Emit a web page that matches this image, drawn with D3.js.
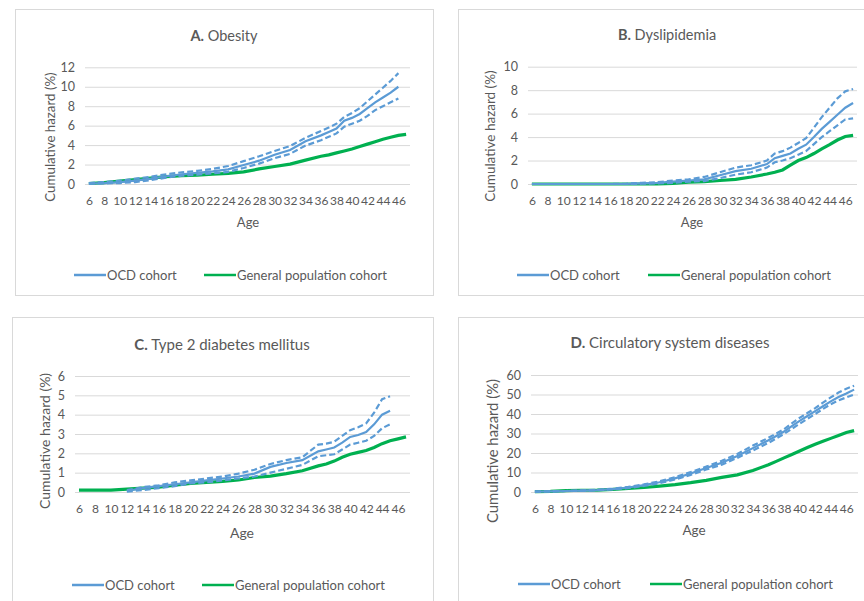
<!DOCTYPE html>
<html>
<head>
<meta charset="utf-8">
<script src="https://cdn.jsdelivr.net/npm/d3@7"></script>
<style>
body { margin: 0; background: #fff; }
text { font-family: Lato, "Open Sans", sans-serif; fill: #595959; }
</style>
</head>
<body>
<div id="chart"></div>
<script>
// category axis (every year) and the ages where values were read
const CATEGORIES = [6,7,8,9,10,11,12,13,14,15,16,17,18,19,20,21,22,23,24,25,26,27,28,29,30,31,32,33,34,35,36,37,38,39,40,41,42,43,44,45,46,47];
const AGE_TICKS = [6,8,10,12,14,16,18,20,22,24,26,28,30,32,34,36,38,40,42,44,46];
const AGES = [6,8,10,12,14,16,18,20,22,24,26,28,30,32,34,36,37,38,39,40,41,42,43,44,45,46,47];

// A. Obesity
const obesityOcd   = [0.05,0.1,0.2,0.35,0.55,0.8,1.0,1.15,1.3,1.5,1.95,2.4,3.0,3.5,4.4,5.0,5.35,5.7,6.5,6.8,7.2,7.8,8.4,8.9,9.4,10.0,null];
const obesityOcdHi = [0.1,0.2,0.35,0.55,0.75,1.0,1.2,1.35,1.55,1.85,2.35,2.85,3.4,3.9,4.75,5.45,5.8,6.2,6.9,7.3,7.8,8.5,9.2,9.9,10.6,11.4,null];
const obesityOcdLo = [0.02,0.05,0.1,0.2,0.4,0.65,0.85,0.95,1.1,1.25,1.65,2.1,2.65,3.1,3.95,4.5,4.85,5.2,5.9,6.2,6.5,7.0,7.6,8.0,8.4,8.8,null];
const obesityGen   = [0.05,0.15,0.3,0.45,0.6,0.75,0.85,0.9,1.0,1.1,1.25,1.55,1.8,2.05,2.45,2.85,3.0,3.2,3.4,3.6,3.85,4.1,4.35,4.6,4.8,5.0,5.1];

// B. Dyslipidemia
const dyslipOcd   = [0,0,0,0,0,0,0,0.05,0.1,0.2,0.3,0.4,0.75,1.1,1.3,1.7,2.2,2.4,2.6,3.0,3.35,4.0,4.7,5.3,5.9,6.5,6.9];
const dyslipOcdHi = [0,0,0,0,0,0,0.02,0.1,0.15,0.3,0.4,0.6,1.0,1.4,1.6,2.0,2.6,2.8,3.1,3.5,3.9,4.8,5.7,6.5,7.3,7.9,8.1];
const dyslipOcdLo = [0,0,0,0,0,0,0,0.02,0.05,0.1,0.2,0.25,0.5,0.8,1.0,1.4,1.85,2.0,2.2,2.5,2.8,3.4,4.0,4.5,5.0,5.5,5.6];
const dyslipGen   = [0,0,0,0,0,0,0,0,0,0.05,0.15,0.2,0.3,0.4,0.6,0.85,1.0,1.2,1.6,2.0,2.25,2.6,3.0,3.35,3.75,4.05,4.15];

// C. Type 2 diabetes mellitus
const diabetesOcd   = [null,null,null,0.05,0.2,0.3,0.4,0.5,0.6,0.7,0.8,0.95,1.3,1.5,1.65,2.1,2.2,2.3,2.55,2.85,2.95,3.1,3.5,4.0,4.2,null,null];
const diabetesOcdHi = [null,null,null,0.1,0.25,0.35,0.5,0.6,0.7,0.8,0.95,1.15,1.45,1.65,1.8,2.45,2.5,2.6,2.9,3.2,3.35,3.55,4.1,4.8,4.95,null,null];
const diabetesOcdLo = [null,null,null,0.02,0.1,0.2,0.3,0.45,0.5,0.6,0.7,0.8,1.0,1.2,1.4,1.85,1.9,1.95,2.2,2.45,2.55,2.65,2.9,3.3,3.5,null,null];
const diabetesGen   = [0.1,0.1,0.1,0.15,0.2,0.25,0.35,0.45,0.5,0.55,0.62,0.75,0.82,0.95,1.1,1.35,1.45,1.6,1.8,1.95,2.05,2.15,2.3,2.5,2.65,2.75,2.85];

// D. Circulatory system diseases
const circOcd   = [0.2,0.3,0.5,0.7,1.0,1.5,2.3,3.5,5.0,7.0,9.5,12.3,15.0,18.5,22.5,26.5,28.7,31.0,33.8,36.5,39.0,41.5,44.0,46.5,48.7,50.5,52.5];
const circOcdHi = [0.2,0.3,0.5,0.8,1.1,1.7,2.6,3.9,5.5,7.6,10.2,13.0,16.0,19.5,23.8,27.8,30.0,32.2,35.2,38.0,40.5,43.0,45.8,48.5,51.0,53.0,54.5];
const circOcdLo = [0.2,0.3,0.5,0.6,0.9,1.3,2.0,3.1,4.5,6.4,8.8,11.5,14.0,17.5,21.3,25.2,27.5,29.8,32.4,35.0,37.5,40.0,42.6,45.0,47.0,48.5,50.0];
const circGen   = [0.2,0.3,0.7,0.9,1.0,1.3,1.8,2.3,3.0,3.8,4.8,6.0,7.5,8.8,11.0,14.0,15.7,17.5,19.2,21.0,22.8,24.5,26.0,27.5,29.0,30.5,31.5];

const BLUE = "#5B9BD5", GREEN = "#00B050", GRID = "#D9D9D9";

const panels = [
    {tag: "A.", name: " Obesity", yTicks: [0,2,4,6,8,10,12],
     ocd: obesityOcd, hi: obesityOcdHi, lo: obesityOcdLo, gen: obesityGen,
     box: [15, 9, 418, 286], plot: {l: 85, r: 410, t: 67.3, b: 184},
     title: [224, 41, 14.5], ylab: [50, 137, 13.3], xlab: [248, 227, 13], leg: [74, 204, 275]},
    {tag: "B.", name: " Dyslipidemia", yTicks: [0,2,4,6,8,10],
     ocd: dyslipOcd, hi: dyslipOcdHi, lo: dyslipOcdLo, gen: dyslipGen,
     box: [458, 9, 420, 286], plot: {l: 528, r: 857, t: 66.7, b: 184},
     title: [667, 40, 14.5], ylab: [490, 136, 13.5], xlab: [692, 227, 13], leg: [517, 648, 275]},
    {tag: "C.", name: " Type 2 diabetes mellitus", yTicks: [0,1,2,3,4,5,6],
     ocd: diabetesOcd, hi: diabetesOcdHi, lo: diabetesOcdLo, gen: diabetesGen,
     box: [12, 317, 421, 300], plot: {l: 75, r: 410, t: 376, b: 492},
     title: [222, 350, 15], ylab: [45, 441, 14], xlab: [242, 538, 14], leg: [72, 202, 585]},
    {tag: "D.", name: " Circulatory system diseases", yTicks: [0,10,20,30,40,50,60],
     ocd: circOcd, hi: circOcdHi, lo: circOcdLo, gen: circGen,
     box: [458, 317, 420, 300], plot: {l: 531, r: 858, t: 375, b: 492},
     title: [670, 348, 15], ylab: [493, 451, 14.8], xlab: [694, 535, 13.5], leg: [518, 650, 584]}
];

let svg = d3.select("#chart")
    .append("svg")
    .attr("width", 864)
    .attr("height", 601)
    .style("background", "#fff");

panels.forEach(function(p) {
    let g = svg.append("g");

    // panel frame
    g.append("rect")
        .attr("x", p.box[0] + 0.5).attr("y", p.box[1] + 0.5)
        .attr("width", p.box[2]).attr("height", p.box[3])
        .attr("fill", "#fff")
        .attr("stroke", GRID);

    let x = d3.scalePoint()
        .domain(CATEGORIES)
        .range([p.plot.l, p.plot.r])
        .padding(0.5);
    let y = d3.scaleLinear()
        .domain([0, p.yTicks[p.yTicks.length - 1]])
        .range([p.plot.b, p.plot.t]);

    // gridlines + y labels
    let yAxis = g.append("g")
        .attr("transform", "translate(" + p.plot.l + ",0)")
        .call(d3.axisLeft(y).tickValues(p.yTicks).tickFormat(d3.format("d"))
            .tickSize(-(p.plot.r - p.plot.l)).tickPadding(10));
    yAxis.select(".domain").remove();
    yAxis.selectAll("line").attr("stroke", GRID).attr("stroke-width", 1);
    yAxis.selectAll("text").style("font-size", "12.5px").style("fill", "#595959")
        .style("font-family", "Lato, sans-serif");

    // x labels
    let xAxis = g.append("g")
        .attr("transform", "translate(0," + p.plot.b + ")")
        .call(d3.axisBottom(x).tickValues(AGE_TICKS).tickSize(0).tickPadding(12));
    xAxis.select(".domain").remove();
    xAxis.selectAll("text").style("font-size", "12px").style("fill", "#595959")
        .style("font-family", "Lato, sans-serif");

    let line = d3.line()
        .defined(function(d) { return d[1] != null; })
        .x(function(d) { return x(d[0]); })
        .y(function(d) { return y(d[1]); });
    let pts = function(vals) { return AGES.map(function(a, i) { return [a, vals[i]]; }); };

    g.append("path").attr("d", line(pts(p.gen)))
        .attr("fill", "none").attr("stroke", GREEN).attr("stroke-width", 3.2);
    g.append("path").attr("d", line(pts(p.hi)))
        .attr("fill", "none").attr("stroke", BLUE).attr("stroke-width", 2.2)
        .attr("stroke-dasharray", "6,3");
    g.append("path").attr("d", line(pts(p.lo)))
        .attr("fill", "none").attr("stroke", BLUE).attr("stroke-width", 2.2)
        .attr("stroke-dasharray", "6,3");
    g.append("path").attr("d", line(pts(p.ocd)))
        .attr("fill", "none").attr("stroke", BLUE).attr("stroke-width", 2.2);

    // title
    let t = g.append("text")
        .attr("x", p.title[0]).attr("y", p.title[1])
        .style("text-anchor", "middle")
        .style("font-size", p.title[2] + "px");
    t.append("tspan").text(p.tag).style("font-weight", "bold");
    t.append("tspan").text(p.name);

    g.append("text")
        .text("Cumulative hazard (%)")
        .attr("transform", "translate(" + p.ylab[0] + "," + p.ylab[1] + ")rotate(-90)")
        .attr("dy", "0.35em")
        .style("text-anchor", "middle")
        .style("font-size", p.ylab[2] + "px");

    g.append("text")
        .text("Age")
        .attr("x", p.xlab[0]).attr("y", p.xlab[1])
        .style("text-anchor", "middle")
        .style("font-size", p.xlab[2] + "px");

    // legend
    [[p.leg[0], BLUE, "OCD cohort"], [p.leg[1], GREEN, "General population cohort"]].forEach(function(l) {
        g.append("line")
            .attr("x1", l[0]).attr("x2", l[0] + 32)
            .attr("y1", p.leg[2]).attr("y2", p.leg[2])
            .attr("stroke", l[1]).attr("stroke-width", 2.5);
        g.append("text")
            .text(l[2])
            .attr("x", l[0] + 33).attr("y", p.leg[2])
            .attr("dy", "0.35em")
            .style("font-size", "13px");
    });
});
</script>
</body>
</html>
